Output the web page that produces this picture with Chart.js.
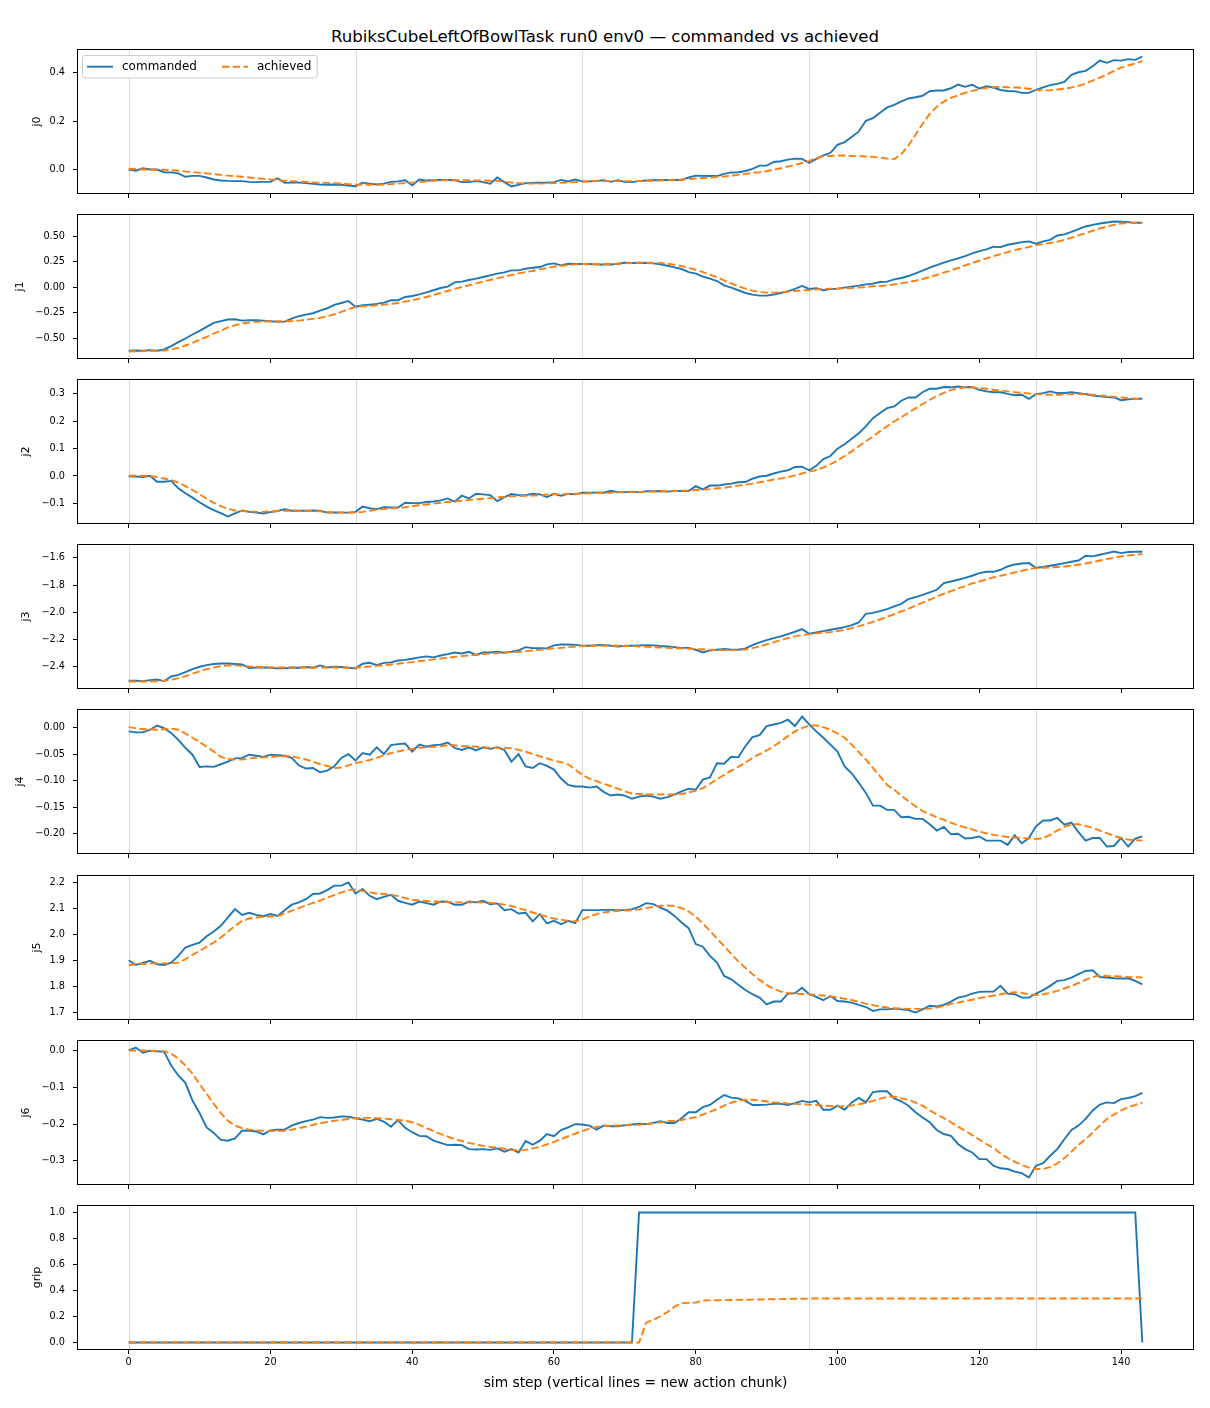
<!DOCTYPE html>
<html>
<head>
<meta charset="utf-8">
<title>RubiksCubeLeftOfBowlTask run0 env0 — commanded vs achieved</title>
<script src="https://cdn.jsdelivr.net/npm/chart.js@4.4.1/dist/chart.umd.min.js"></script>
<style>
  body { margin: 0; background: #fff; width: 1210px; height: 1408px; position: relative; overflow: hidden; font-family: "DejaVu Sans", sans-serif; }
  #title { position: absolute; left: 0; top: 26.5px; width: 1210px; text-align: center; font-size: 16.6px; line-height: 20px; color: #000; }
  canvas { position: absolute; left: 0; }
</style>
</head>
<body>
<div id="title">RubiksCubeLeftOfBowlTask run0 env0 — commanded vs achieved</div>
<div id="plots"></div>
<script>
// Joint traces, one value per sim step (0..143)

const j0Commanded = [
  0.000, -0.005, 0.005, 0.000, 0.000, -0.011, -0.012, -0.016, -0.030, -0.026,
  -0.026, -0.033, -0.041, -0.045, -0.047, -0.048, -0.048, -0.051, -0.052, -0.051,
  -0.051, -0.036, -0.055, -0.054, -0.054, -0.056, -0.059, -0.062, -0.063, -0.062,
  -0.063, -0.066, -0.069, -0.054, -0.058, -0.062, -0.058, -0.051, -0.049, -0.044,
  -0.065, -0.041, -0.045, -0.044, -0.043, -0.043, -0.044, -0.052, -0.052, -0.048,
  -0.052, -0.059, -0.033, -0.052, -0.070, -0.063, -0.056, -0.055, -0.054, -0.054,
  -0.052, -0.043, -0.049, -0.041, -0.049, -0.049, -0.047, -0.044, -0.051, -0.044,
  -0.051, -0.052, -0.048, -0.045, -0.044, -0.043, -0.043, -0.043, -0.043, -0.033,
  -0.025, -0.026, -0.027, -0.027, -0.018, -0.012, -0.011, -0.006, 0.003, 0.016,
  0.016, 0.031, 0.034, 0.041, 0.045, 0.044, 0.027, 0.044, 0.058, 0.069,
  0.102, 0.113, 0.134, 0.157, 0.201, 0.212, 0.234, 0.256, 0.267, 0.281,
  0.293, 0.298, 0.304, 0.323, 0.326, 0.326, 0.335, 0.350, 0.341, 0.349,
  0.334, 0.343, 0.338, 0.328, 0.324, 0.323, 0.316, 0.316, 0.328, 0.339,
  0.348, 0.353, 0.361, 0.390, 0.401, 0.407, 0.426, 0.449, 0.440, 0.451,
  0.449, 0.455, 0.452, 0.466
]
const j0Achieved = [
  0.003, 0.002, 0.000, 0.000, -0.001, -0.001, -0.003, -0.005, -0.008, -0.010,
  -0.014, -0.016, -0.019, -0.022, -0.025, -0.027, -0.030, -0.033, -0.036, -0.038,
  -0.041, -0.043, -0.047, -0.048, -0.050, -0.051, -0.053, -0.054, -0.055, -0.056,
  -0.058, -0.060, -0.062, -0.063, -0.063, -0.063, -0.062, -0.060, -0.058, -0.056,
  -0.054, -0.052, -0.048, -0.046, -0.045, -0.044, -0.044, -0.044, -0.044, -0.045,
  -0.045, -0.046, -0.047, -0.050, -0.054, -0.056, -0.058, -0.058, -0.058, -0.057,
  -0.056, -0.055, -0.054, -0.052, -0.050, -0.049, -0.048, -0.048, -0.048, -0.048,
  -0.048, -0.048, -0.048, -0.047, -0.047, -0.045, -0.044, -0.043, -0.041, -0.039,
  -0.037, -0.035, -0.033, -0.030, -0.029, -0.025, -0.022, -0.018, -0.014, -0.011,
  -0.007, 0.000, 0.005, 0.012, 0.019, 0.027, 0.036, 0.047, 0.055, 0.056,
  0.058, 0.058, 0.056, 0.055, 0.054, 0.052, 0.049, 0.045, 0.043, 0.064,
  0.099, 0.143, 0.188, 0.229, 0.259, 0.280, 0.295, 0.306, 0.316, 0.324,
  0.331, 0.337, 0.339, 0.341, 0.339, 0.338, 0.337, 0.333, 0.328, 0.326,
  0.327, 0.330, 0.333, 0.338, 0.345, 0.354, 0.367, 0.379, 0.392, 0.407,
  0.420, 0.429, 0.437, 0.447
]

const j1Commanded = [
  -0.624, -0.621, -0.624, -0.618, -0.624, -0.611, -0.578, -0.539, -0.503, -0.464,
  -0.428, -0.389, -0.350, -0.333, -0.317, -0.314, -0.327, -0.324, -0.324, -0.327,
  -0.333, -0.340, -0.337, -0.307, -0.284, -0.268, -0.255, -0.229, -0.206, -0.173,
  -0.154, -0.134, -0.190, -0.176, -0.170, -0.163, -0.150, -0.127, -0.127, -0.095,
  -0.085, -0.069, -0.049, -0.029, -0.007, 0.007, 0.049, 0.056, 0.072, 0.085,
  0.101, 0.118, 0.134, 0.147, 0.167, 0.167, 0.183, 0.193, 0.199, 0.225,
  0.235, 0.216, 0.232, 0.229, 0.229, 0.229, 0.225, 0.225, 0.225, 0.232,
  0.242, 0.239, 0.242, 0.239, 0.235, 0.225, 0.212, 0.196, 0.180, 0.150,
  0.134, 0.105, 0.085, 0.062, 0.020, -0.003, -0.029, -0.056, -0.072, -0.082,
  -0.082, -0.072, -0.056, -0.039, -0.016, 0.013, -0.016, -0.010, -0.029, -0.016,
  -0.013, -0.003, 0.007, 0.016, 0.029, 0.036, 0.052, 0.056, 0.078, 0.092,
  0.111, 0.137, 0.163, 0.193, 0.219, 0.242, 0.265, 0.284, 0.307, 0.333,
  0.356, 0.373, 0.399, 0.395, 0.418, 0.431, 0.444, 0.451, 0.428, 0.451,
  0.467, 0.510, 0.520, 0.546, 0.572, 0.598, 0.614, 0.627, 0.637, 0.647,
  0.644, 0.641, 0.634, 0.634
]
const j1Achieved = [
  -0.631, -0.629, -0.627, -0.626, -0.624, -0.621, -0.611, -0.595, -0.572, -0.546,
  -0.516, -0.487, -0.454, -0.425, -0.395, -0.373, -0.356, -0.346, -0.340, -0.337,
  -0.333, -0.333, -0.333, -0.333, -0.327, -0.320, -0.310, -0.301, -0.284, -0.265,
  -0.242, -0.216, -0.193, -0.186, -0.183, -0.176, -0.170, -0.163, -0.154, -0.141,
  -0.127, -0.111, -0.095, -0.075, -0.056, -0.036, -0.016, 0.003, 0.020, 0.039,
  0.056, 0.072, 0.088, 0.105, 0.121, 0.137, 0.150, 0.163, 0.176, 0.190,
  0.203, 0.212, 0.219, 0.225, 0.229, 0.229, 0.229, 0.229, 0.229, 0.232,
  0.235, 0.239, 0.242, 0.242, 0.239, 0.239, 0.232, 0.222, 0.209, 0.193,
  0.173, 0.150, 0.124, 0.098, 0.069, 0.039, 0.010, -0.013, -0.033, -0.046,
  -0.052, -0.052, -0.049, -0.042, -0.036, -0.029, -0.026, -0.020, -0.016, -0.013,
  -0.013, -0.010, -0.007, -0.003, 0.003, 0.010, 0.013, 0.020, 0.029, 0.039,
  0.052, 0.065, 0.082, 0.101, 0.121, 0.144, 0.167, 0.190, 0.216, 0.239,
  0.261, 0.284, 0.307, 0.327, 0.346, 0.366, 0.382, 0.395, 0.415, 0.425,
  0.435, 0.448, 0.467, 0.487, 0.510, 0.533, 0.556, 0.578, 0.598, 0.614,
  0.627, 0.634, 0.634, 0.631
]

const j2Commanded = [
  -0.001, -0.002, -0.004, 0.001, -0.021, -0.021, -0.018, -0.045, -0.063, -0.079,
  -0.096, -0.112, -0.125, -0.136, -0.148, -0.137, -0.126, -0.131, -0.134, -0.137,
  -0.132, -0.128, -0.121, -0.127, -0.127, -0.127, -0.126, -0.127, -0.134, -0.133,
  -0.134, -0.134, -0.131, -0.112, -0.118, -0.121, -0.114, -0.115, -0.115, -0.098,
  -0.099, -0.099, -0.095, -0.093, -0.089, -0.082, -0.094, -0.072, -0.082, -0.065,
  -0.067, -0.070, -0.092, -0.077, -0.066, -0.070, -0.070, -0.065, -0.067, -0.077,
  -0.065, -0.072, -0.065, -0.067, -0.061, -0.061, -0.060, -0.061, -0.054, -0.059,
  -0.059, -0.057, -0.060, -0.056, -0.056, -0.055, -0.057, -0.055, -0.055, -0.055,
  -0.037, -0.049, -0.035, -0.035, -0.031, -0.028, -0.023, -0.022, -0.010, -0.002,
  0.001, 0.009, 0.016, 0.021, 0.033, 0.034, 0.021, 0.037, 0.062, 0.073,
  0.100, 0.116, 0.136, 0.156, 0.181, 0.211, 0.230, 0.248, 0.254, 0.275,
  0.287, 0.287, 0.306, 0.319, 0.319, 0.325, 0.324, 0.327, 0.324, 0.325,
  0.315, 0.309, 0.306, 0.306, 0.300, 0.295, 0.297, 0.282, 0.299, 0.303,
  0.309, 0.303, 0.303, 0.306, 0.303, 0.299, 0.294, 0.291, 0.288, 0.287,
  0.277, 0.280, 0.282, 0.282
]
const j2Achieved = [
  0.001, 0.001, 0.001, 0.000, -0.004, -0.009, -0.015, -0.024, -0.037, -0.051,
  -0.067, -0.083, -0.098, -0.110, -0.120, -0.126, -0.128, -0.129, -0.131, -0.131,
  -0.129, -0.128, -0.127, -0.127, -0.127, -0.127, -0.128, -0.129, -0.131, -0.132,
  -0.133, -0.134, -0.134, -0.131, -0.127, -0.123, -0.121, -0.118, -0.116, -0.114,
  -0.110, -0.107, -0.104, -0.101, -0.098, -0.095, -0.093, -0.090, -0.088, -0.085,
  -0.083, -0.081, -0.078, -0.077, -0.074, -0.073, -0.072, -0.071, -0.070, -0.068,
  -0.067, -0.067, -0.066, -0.065, -0.065, -0.063, -0.062, -0.062, -0.061, -0.060,
  -0.060, -0.059, -0.059, -0.057, -0.057, -0.056, -0.056, -0.055, -0.054, -0.053,
  -0.051, -0.050, -0.048, -0.045, -0.043, -0.039, -0.035, -0.032, -0.028, -0.023,
  -0.018, -0.013, -0.009, -0.004, 0.002, 0.009, 0.016, 0.022, 0.031, 0.043,
  0.057, 0.073, 0.090, 0.109, 0.127, 0.145, 0.164, 0.182, 0.199, 0.215,
  0.231, 0.247, 0.263, 0.278, 0.292, 0.304, 0.314, 0.320, 0.324, 0.324,
  0.321, 0.319, 0.315, 0.313, 0.309, 0.306, 0.304, 0.302, 0.299, 0.298,
  0.297, 0.297, 0.298, 0.299, 0.299, 0.298, 0.297, 0.294, 0.292, 0.289,
  0.287, 0.284, 0.282, 0.281
]

const j3Commanded = [
  -2.503, -2.503, -2.505, -2.498, -2.493, -2.505, -2.471, -2.459, -2.439, -2.417,
  -2.400, -2.388, -2.380, -2.376, -2.376, -2.380, -2.383, -2.410, -2.405, -2.405,
  -2.407, -2.412, -2.412, -2.405, -2.407, -2.402, -2.407, -2.390, -2.405, -2.400,
  -2.402, -2.407, -2.412, -2.378, -2.371, -2.388, -2.371, -2.368, -2.354, -2.349,
  -2.341, -2.331, -2.324, -2.331, -2.317, -2.307, -2.295, -2.302, -2.290, -2.312,
  -2.295, -2.295, -2.290, -2.297, -2.290, -2.280, -2.256, -2.263, -2.263, -2.265,
  -2.243, -2.236, -2.236, -2.239, -2.246, -2.246, -2.241, -2.239, -2.246, -2.251,
  -2.246, -2.246, -2.243, -2.241, -2.243, -2.248, -2.251, -2.256, -2.261, -2.261,
  -2.275, -2.295, -2.280, -2.275, -2.270, -2.275, -2.275, -2.265, -2.241, -2.221,
  -2.204, -2.190, -2.177, -2.160, -2.143, -2.124, -2.158, -2.148, -2.138, -2.128,
  -2.119, -2.109, -2.094, -2.075, -2.011, -2.004, -1.991, -1.977, -1.957, -1.938,
  -1.903, -1.889, -1.872, -1.854, -1.835, -1.786, -1.774, -1.761, -1.747, -1.732,
  -1.713, -1.703, -1.703, -1.688, -1.664, -1.649, -1.642, -1.639, -1.673, -1.668,
  -1.659, -1.649, -1.639, -1.629, -1.620, -1.585, -1.590, -1.578, -1.566, -1.554,
  -1.566, -1.558, -1.556, -1.556
]
const j3Achieved = [
  -2.508, -2.508, -2.508, -2.508, -2.505, -2.503, -2.495, -2.483, -2.469, -2.451,
  -2.434, -2.417, -2.405, -2.395, -2.390, -2.390, -2.393, -2.398, -2.400, -2.402,
  -2.405, -2.405, -2.405, -2.405, -2.405, -2.405, -2.405, -2.405, -2.405, -2.405,
  -2.407, -2.407, -2.407, -2.402, -2.398, -2.393, -2.388, -2.383, -2.378, -2.371,
  -2.366, -2.358, -2.354, -2.346, -2.339, -2.334, -2.327, -2.322, -2.317, -2.312,
  -2.307, -2.302, -2.300, -2.295, -2.292, -2.290, -2.285, -2.280, -2.275, -2.270,
  -2.265, -2.261, -2.256, -2.251, -2.248, -2.246, -2.246, -2.246, -2.246, -2.246,
  -2.248, -2.248, -2.251, -2.253, -2.256, -2.258, -2.261, -2.263, -2.265, -2.268,
  -2.270, -2.273, -2.275, -2.278, -2.278, -2.278, -2.278, -2.273, -2.263, -2.251,
  -2.236, -2.221, -2.204, -2.190, -2.177, -2.168, -2.160, -2.155, -2.150, -2.146,
  -2.138, -2.128, -2.116, -2.102, -2.087, -2.070, -2.053, -2.033, -2.013, -1.994,
  -1.974, -1.952, -1.930, -1.908, -1.886, -1.864, -1.845, -1.825, -1.808, -1.788,
  -1.774, -1.759, -1.744, -1.732, -1.720, -1.708, -1.695, -1.683, -1.676, -1.673,
  -1.671, -1.668, -1.664, -1.659, -1.651, -1.642, -1.632, -1.620, -1.610, -1.600,
  -1.590, -1.583, -1.578, -1.573
]

const j4Commanded = [
  -0.007, -0.009, -0.009, -0.004, 0.004, -0.001, -0.010, -0.023, -0.038, -0.051,
  -0.074, -0.073, -0.074, -0.069, -0.064, -0.058, -0.057, -0.051, -0.053, -0.055,
  -0.051, -0.052, -0.053, -0.057, -0.071, -0.077, -0.076, -0.084, -0.081, -0.073,
  -0.057, -0.050, -0.062, -0.048, -0.051, -0.037, -0.050, -0.033, -0.031, -0.030,
  -0.045, -0.032, -0.036, -0.033, -0.032, -0.028, -0.038, -0.042, -0.037, -0.043,
  -0.037, -0.040, -0.037, -0.042, -0.064, -0.050, -0.073, -0.076, -0.067, -0.072,
  -0.079, -0.096, -0.108, -0.111, -0.111, -0.113, -0.111, -0.121, -0.128, -0.126,
  -0.128, -0.134, -0.130, -0.128, -0.130, -0.134, -0.131, -0.126, -0.120, -0.115,
  -0.117, -0.098, -0.094, -0.067, -0.068, -0.055, -0.056, -0.035, -0.018, -0.014,
  0.003, 0.006, 0.009, 0.015, 0.003, 0.021, 0.006, -0.007, -0.019, -0.032,
  -0.045, -0.073, -0.086, -0.104, -0.123, -0.147, -0.147, -0.155, -0.155, -0.169,
  -0.168, -0.172, -0.172, -0.182, -0.194, -0.187, -0.201, -0.200, -0.209, -0.208,
  -0.205, -0.213, -0.213, -0.213, -0.221, -0.203, -0.218, -0.208, -0.186, -0.175,
  -0.175, -0.170, -0.183, -0.179, -0.197, -0.213, -0.208, -0.208, -0.224, -0.223,
  -0.208, -0.224, -0.209, -0.205
]
const j4Achieved = [
  0.001, -0.001, -0.003, -0.003, -0.004, -0.003, -0.002, -0.004, -0.011, -0.019,
  -0.027, -0.036, -0.045, -0.055, -0.059, -0.060, -0.060, -0.058, -0.057, -0.056,
  -0.055, -0.054, -0.054, -0.054, -0.057, -0.060, -0.064, -0.069, -0.072, -0.076,
  -0.075, -0.071, -0.067, -0.064, -0.061, -0.057, -0.052, -0.048, -0.045, -0.042,
  -0.040, -0.038, -0.037, -0.036, -0.035, -0.033, -0.033, -0.035, -0.035, -0.036,
  -0.037, -0.038, -0.038, -0.038, -0.039, -0.042, -0.045, -0.050, -0.054, -0.058,
  -0.062, -0.065, -0.069, -0.079, -0.089, -0.096, -0.101, -0.106, -0.110, -0.115,
  -0.120, -0.124, -0.125, -0.126, -0.126, -0.126, -0.126, -0.126, -0.125, -0.122,
  -0.119, -0.114, -0.106, -0.097, -0.089, -0.081, -0.074, -0.066, -0.057, -0.050,
  -0.043, -0.035, -0.026, -0.016, -0.007, -0.001, 0.004, 0.004, 0.001, -0.004,
  -0.011, -0.019, -0.032, -0.046, -0.060, -0.076, -0.092, -0.108, -0.117, -0.128,
  -0.139, -0.148, -0.157, -0.163, -0.169, -0.174, -0.179, -0.184, -0.188, -0.192,
  -0.196, -0.199, -0.202, -0.204, -0.206, -0.207, -0.208, -0.209, -0.210, -0.208,
  -0.202, -0.194, -0.187, -0.182, -0.182, -0.185, -0.189, -0.194, -0.199, -0.204,
  -0.208, -0.211, -0.212, -0.213
]

const j5Commanded = [
  1.901, 1.883, 1.891, 1.899, 1.886, 1.883, 1.892, 1.918, 1.950, 1.960,
  1.969, 1.993, 2.011, 2.033, 2.065, 2.097, 2.075, 2.083, 2.075, 2.070,
  2.078, 2.071, 2.093, 2.114, 2.123, 2.135, 2.155, 2.157, 2.170, 2.187,
  2.187, 2.199, 2.157, 2.174, 2.148, 2.135, 2.144, 2.152, 2.129, 2.121,
  2.114, 2.126, 2.120, 2.114, 2.126, 2.125, 2.114, 2.114, 2.126, 2.123,
  2.129, 2.116, 2.119, 2.093, 2.097, 2.080, 2.083, 2.050, 2.078, 2.042,
  2.052, 2.039, 2.052, 2.043, 2.093, 2.093, 2.093, 2.094, 2.094, 2.093,
  2.093, 2.097, 2.106, 2.120, 2.116, 2.103, 2.091, 2.071, 2.046, 2.024,
  1.963, 1.953, 1.918, 1.892, 1.841, 1.828, 1.807, 1.787, 1.771, 1.758,
  1.732, 1.743, 1.743, 1.773, 1.775, 1.796, 1.771, 1.761, 1.748, 1.764,
  1.745, 1.743, 1.739, 1.730, 1.722, 1.707, 1.713, 1.713, 1.716, 1.713,
  1.710, 1.701, 1.713, 1.727, 1.724, 1.730, 1.743, 1.758, 1.764, 1.773,
  1.780, 1.781, 1.781, 1.803, 1.773, 1.771, 1.758, 1.758, 1.773, 1.787,
  1.803, 1.822, 1.825, 1.835, 1.848, 1.860, 1.863, 1.837, 1.835, 1.832,
  1.831, 1.832, 1.822, 1.809
]
const j5Achieved = [
  1.882, 1.886, 1.887, 1.889, 1.889, 1.889, 1.889, 1.892, 1.905, 1.922,
  1.937, 1.953, 1.969, 1.988, 2.010, 2.033, 2.052, 2.061, 2.065, 2.068,
  2.069, 2.071, 2.080, 2.091, 2.101, 2.111, 2.121, 2.130, 2.141, 2.151,
  2.161, 2.170, 2.172, 2.167, 2.161, 2.157, 2.155, 2.152, 2.147, 2.139,
  2.133, 2.130, 2.128, 2.126, 2.125, 2.124, 2.123, 2.123, 2.123, 2.123,
  2.123, 2.121, 2.119, 2.114, 2.109, 2.101, 2.093, 2.084, 2.075, 2.068,
  2.061, 2.057, 2.052, 2.050, 2.057, 2.069, 2.078, 2.084, 2.088, 2.091,
  2.092, 2.093, 2.096, 2.101, 2.106, 2.110, 2.111, 2.109, 2.101, 2.088,
  2.068, 2.042, 2.014, 1.984, 1.955, 1.926, 1.897, 1.872, 1.848, 1.826,
  1.807, 1.791, 1.781, 1.775, 1.773, 1.772, 1.771, 1.768, 1.766, 1.763,
  1.759, 1.754, 1.749, 1.742, 1.735, 1.729, 1.724, 1.720, 1.717, 1.716,
  1.715, 1.715, 1.715, 1.716, 1.720, 1.726, 1.734, 1.739, 1.745, 1.750,
  1.756, 1.761, 1.766, 1.771, 1.776, 1.779, 1.776, 1.771, 1.768, 1.771,
  1.776, 1.784, 1.793, 1.803, 1.814, 1.826, 1.837, 1.843, 1.841, 1.840,
  1.839, 1.837, 1.836, 1.835
]

const j6Commanded = [
  0.000, 0.008, -0.006, -0.001, -0.002, -0.004, -0.041, -0.068, -0.088, -0.136,
  -0.170, -0.209, -0.224, -0.243, -0.245, -0.239, -0.218, -0.218, -0.220, -0.228,
  -0.217, -0.215, -0.215, -0.204, -0.197, -0.192, -0.188, -0.181, -0.183, -0.182,
  -0.179, -0.180, -0.184, -0.188, -0.192, -0.186, -0.193, -0.207, -0.189, -0.210,
  -0.222, -0.232, -0.233, -0.245, -0.251, -0.257, -0.256, -0.257, -0.268, -0.269,
  -0.268, -0.270, -0.266, -0.275, -0.268, -0.277, -0.246, -0.256, -0.245, -0.227,
  -0.233, -0.216, -0.209, -0.200, -0.201, -0.204, -0.215, -0.204, -0.206, -0.206,
  -0.203, -0.201, -0.199, -0.200, -0.197, -0.192, -0.197, -0.197, -0.184, -0.168,
  -0.168, -0.154, -0.148, -0.134, -0.121, -0.128, -0.130, -0.137, -0.148, -0.148,
  -0.147, -0.145, -0.145, -0.148, -0.143, -0.137, -0.141, -0.137, -0.161, -0.161,
  -0.150, -0.161, -0.141, -0.129, -0.141, -0.113, -0.111, -0.111, -0.130, -0.138,
  -0.150, -0.168, -0.182, -0.195, -0.216, -0.227, -0.232, -0.254, -0.268, -0.277,
  -0.295, -0.295, -0.313, -0.320, -0.322, -0.329, -0.333, -0.345, -0.313, -0.306,
  -0.286, -0.268, -0.241, -0.216, -0.204, -0.186, -0.163, -0.147, -0.141, -0.143,
  -0.132, -0.129, -0.124, -0.115
]
const j6Achieved = [
  0.000, 0.000, 0.000, -0.001, -0.002, -0.002, -0.009, -0.022, -0.041, -0.063,
  -0.091, -0.118, -0.145, -0.170, -0.191, -0.204, -0.211, -0.215, -0.217, -0.218,
  -0.219, -0.219, -0.218, -0.215, -0.211, -0.207, -0.202, -0.198, -0.194, -0.191,
  -0.189, -0.186, -0.184, -0.183, -0.183, -0.184, -0.185, -0.187, -0.189, -0.191,
  -0.195, -0.202, -0.211, -0.219, -0.227, -0.234, -0.241, -0.246, -0.251, -0.255,
  -0.259, -0.262, -0.264, -0.267, -0.270, -0.271, -0.270, -0.266, -0.262, -0.255,
  -0.248, -0.241, -0.233, -0.226, -0.219, -0.212, -0.208, -0.205, -0.204, -0.204,
  -0.203, -0.202, -0.202, -0.200, -0.198, -0.195, -0.192, -0.191, -0.189, -0.185,
  -0.181, -0.174, -0.167, -0.159, -0.150, -0.142, -0.137, -0.134, -0.134, -0.136,
  -0.138, -0.141, -0.142, -0.144, -0.145, -0.146, -0.147, -0.148, -0.150, -0.151,
  -0.152, -0.152, -0.149, -0.146, -0.142, -0.137, -0.131, -0.126, -0.125, -0.130,
  -0.134, -0.142, -0.150, -0.162, -0.174, -0.184, -0.195, -0.207, -0.218, -0.230,
  -0.242, -0.254, -0.265, -0.280, -0.292, -0.302, -0.311, -0.318, -0.322, -0.322,
  -0.316, -0.307, -0.292, -0.275, -0.256, -0.241, -0.223, -0.204, -0.186, -0.174,
  -0.163, -0.154, -0.148, -0.142
]

const gripCommanded = [
  0, 0, 0, 0, 0, 0, 0, 0, 0, 0,
  0, 0, 0, 0, 0, 0, 0, 0, 0, 0,
  0, 0, 0, 0, 0, 0, 0, 0, 0, 0,
  0, 0, 0, 0, 0, 0, 0, 0, 0, 0,
  0, 0, 0, 0, 0, 0, 0, 0, 0, 0,
  0, 0, 0, 0, 0, 0, 0, 0, 0, 0,
  0, 0, 0, 0, 0, 0, 0, 0, 0, 0,
  0, 0, 1, 1, 1, 1, 1, 1, 1, 1,
  1, 1, 1, 1, 1, 1, 1, 1, 1, 1,
  1, 1, 1, 1, 1, 1, 1, 1, 1, 1,
  1, 1, 1, 1, 1, 1, 1, 1, 1, 1,
  1, 1, 1, 1, 1, 1, 1, 1, 1, 1,
  1, 1, 1, 1, 1, 1, 1, 1, 1, 1,
  1, 1, 1, 1, 1, 1, 1, 1, 1, 1,
  1, 1, 1, 0
]
const gripAchieved = [
  0, 0, 0, 0, 0, 0, 0, 0, 0, 0,
  0, 0, 0, 0, 0, 0, 0, 0, 0, 0,
  0, 0, 0, 0, 0, 0, 0, 0, 0, 0,
  0, 0, 0, 0, 0, 0, 0, 0, 0, 0,
  0, 0, 0, 0, 0, 0, 0, 0, 0, 0,
  0, 0, 0, 0, 0, 0, 0, 0, 0, 0,
  0, 0, 0, 0, 0, 0, 0, 0, 0, 0,
  0, 0, 0, 0.152, 0.175, 0.200, 0.235, 0.275, 0.303, 0.305,
  0.307, 0.323, 0.324, 0.325, 0.326, 0.327, 0.328, 0.329, 0.330, 0.331,
  0.332, 0.333, 0.334, 0.335, 0.336, 0.337, 0.338, 0.339, 0.339, 0.339,
  0.339, 0.339, 0.339, 0.339, 0.339, 0.339, 0.339, 0.339, 0.339, 0.339,
  0.339, 0.339, 0.339, 0.339, 0.339, 0.339, 0.339, 0.339, 0.339, 0.339,
  0.339, 0.339, 0.339, 0.339, 0.339, 0.339, 0.339, 0.339, 0.339, 0.339,
  0.339, 0.339, 0.339, 0.339, 0.339, 0.339, 0.339, 0.339, 0.339, 0.339,
  0.339, 0.339, 0.339, 0.339
]

// Tick values and labels
const xTicks = [0, 20, 40, 60, 80, 100, 120, 140]
const chunkStarts = [0, 32, 64, 96, 128]
const j0Ticks = [0.0, 0.2, 0.4]
const j0TickLabels = ["0.0", "0.2", "0.4"]
const j1Ticks = [-0.5, -0.25, 0, 0.25, 0.5]
const j1TickLabels = ["\u22120.50", "\u22120.25", "0.00", "0.25", "0.50"]
const j2Ticks = [-0.1, 0, 0.1, 0.2, 0.3]
const j2TickLabels = ["\u22120.1", "0.0", "0.1", "0.2", "0.3"]
const j3Ticks = [-2.4, -2.2, -2.0, -1.8, -1.6]
const j3TickLabels = ["\u22122.4", "\u22122.2", "\u22122.0", "\u22121.8", "\u22121.6"]
const j4Ticks = [-0.2, -0.15, -0.1, -0.05, 0]
const j4TickLabels = ["\u22120.20", "\u22120.15", "\u22120.10", "\u22120.05", "0.00"]
const j5Ticks = [1.7, 1.8, 1.9, 2.0, 2.1, 2.2]
const j5TickLabels = ["1.7", "1.8", "1.9", "2.0", "2.1", "2.2"]
const j6Ticks = [-0.3, -0.2, -0.1, 0.0]
const j6TickLabels = ["\u22120.3", "\u22120.2", "\u22120.1", "0.0"]
const gripTicks = [0, 0.2, 0.4, 0.6, 0.8, 1.0]
const gripTickLabels = ["0.0", "0.2", "0.4", "0.6", "0.8", "1.0"]

const steps = []
for (let i = 0; i < j0Commanded.length; i++) steps.push(i)

// Page layout (pixels)
const PAGE_W = 1210
const AX_LEFT = 78
const AX_RIGHT = 1193
const AX_H = 143
const PAD_TOP = 14
const panelTops = [50, 215, 380, 545, 710, 876, 1041, 1206]
const yLabelCenters = [37, 20, 26, 26, 20, 37, 26, 37.5]
const TICK_FONT = 9.7
const LABEL_FONT = 11.1
const XLABEL_FONT = 13.8

const panels = [
  { name: "j0", cmd: j0Commanded, ach: j0Achieved, ticks: j0Ticks, labels: j0TickLabels },
  { name: "j1", cmd: j1Commanded, ach: j1Achieved, ticks: j1Ticks, labels: j1TickLabels },
  { name: "j2", cmd: j2Commanded, ach: j2Achieved, ticks: j2Ticks, labels: j2TickLabels },
  { name: "j3", cmd: j3Commanded, ach: j3Achieved, ticks: j3Ticks, labels: j3TickLabels },
  { name: "j4", cmd: j4Commanded, ach: j4Achieved, ticks: j4Ticks, labels: j4TickLabels },
  { name: "j5", cmd: j5Commanded, ach: j5Achieved, ticks: j5Ticks, labels: j5TickLabels },
  { name: "j6", cmd: j6Commanded, ach: j6Achieved, ticks: j6Ticks, labels: j6TickLabels },
  { name: "grip", cmd: gripCommanded, ach: gripAchieved, ticks: gripTicks, labels: gripTickLabels },
]

Chart.defaults.font.family = '"DejaVu Sans", sans-serif'
Chart.defaults.color = "#000"

// matplotlib-style autoscale: data range plus 5% each side
function paddedRange(a, b) {
  const all = a.concat(b)
  const lo = Math.min(...all)
  const hi = Math.max(...all)
  const m = (hi - lo) * 0.05
  return [lo - m, hi + m]
}

function toPoints(values) {
  return steps.map((s, k) => ({ x: s, y: values[k] }))
}

// light vertical lines where a new action chunk starts
const chunkLines = {
  id: "chunkLines",
  beforeDatasetsDraw(chart) {
    const { ctx, chartArea, scales } = chart
    ctx.save()
    ctx.strokeStyle = "#d9d9d9"
    ctx.lineWidth = 1
    chunkStarts.forEach((c) => {
      const px = Math.round(scales.x.getPixelForValue(c)) + 0.5
      ctx.beginPath()
      ctx.moveTo(px, chartArea.top)
      ctx.lineTo(px, chartArea.bottom)
      ctx.stroke()
    })
    ctx.restore()
  },
}

// full box around the axes, like matplotlib spines
const axesFrame = {
  id: "axesFrame",
  afterDatasetsDraw(chart) {
    const { ctx, chartArea } = chart
    ctx.save()
    ctx.strokeStyle = "#000"
    ctx.lineWidth = 1
    ctx.strokeRect(chartArea.left - 0.5, chartArea.top - 0.5, chartArea.width + 1, chartArea.height + 1)
    ctx.restore()
  },
}

// legend box in the upper-left corner of the first panel
const cornerLegend = {
  id: "cornerLegend",
  afterDraw(chart) {
    const { ctx, chartArea } = chart
    const handleLen = 26
    const textPad = 9
    const colGap = 25
    const x0 = chartArea.left + 4.5
    const y0 = chartArea.top + 5.5
    const yc = chartArea.top + 16.7
    ctx.save()
    ctx.font = '12px "DejaVu Sans"'
    let x = x0 + 4.5
    const items = chart.data.datasets.map((ds) => {
      const w = ctx.measureText(ds.label).width
      const item = { ds, x, w }
      x += handleLen + textPad + w + colGap
      return item
    })
    const boxW = x - colGap + 6 - x0
    ctx.beginPath()
    if (ctx.roundRect) ctx.roundRect(x0, y0, boxW, 22.5, 2.5)
    else ctx.rect(x0, y0, boxW, 22.5)
    ctx.fillStyle = "rgba(255,255,255,0.8)"
    ctx.fill()
    ctx.strokeStyle = "#cccccc"
    ctx.lineWidth = 1
    ctx.stroke()
    items.forEach((it) => {
      ctx.beginPath()
      ctx.strokeStyle = it.ds.borderColor
      ctx.lineWidth = it.ds.borderWidth
      ctx.setLineDash(it.ds.borderDash || [])
      ctx.moveTo(it.x, yc)
      ctx.lineTo(it.x + handleLen, yc)
      ctx.stroke()
      ctx.setLineDash([])
      ctx.fillStyle = "#000"
      ctx.textBaseline = "middle"
      ctx.fillText(it.ds.label, it.x + handleLen + textPad, yc)
    })
    ctx.restore()
  },
}

function makePanel(panel, i) {
  const isLast = i === panels.length - 1
  const bottomSpace = isLast ? 52 : 14
  const canvas = document.createElement("canvas")
  canvas.width = PAGE_W
  canvas.height = PAD_TOP + AX_H + bottomSpace
  canvas.style.width = PAGE_W + "px"
  canvas.style.height = canvas.height + "px"
  canvas.style.top = panelTops[i] - PAD_TOP + "px"
  document.getElementById("plots").appendChild(canvas)

  const [yMin, yMax] = paddedRange(panel.cmd, panel.ach)
  const tickGrid = { drawOnChartArea: false, drawTicks: true, tickLength: 5, color: "#000", lineWidth: 1 }

  const plugins = [chunkLines, axesFrame]
  if (i === 0) plugins.push(cornerLegend)

  return new Chart(canvas.getContext("2d"), {
    type: "line",
    data: {
      datasets: [
        {
          label: "commanded",
          data: toPoints(panel.cmd),
          borderColor: "#1f77b4",
          borderWidth: 1.9,
          pointRadius: 0,
          tension: 0,
          order: 2,
        },
        {
          label: "achieved",
          data: toPoints(panel.ach),
          borderColor: "#ff7f0e",
          borderWidth: 1.9,
          borderDash: [7.5, 3.3],
          pointRadius: 0,
          tension: 0,
          order: 1,
        },
      ],
    },
    options: {
      responsive: false,
      animation: false,
      devicePixelRatio: 1,
      events: [],
      layout: { padding: { top: PAD_TOP, left: 0, right: PAGE_W - AX_RIGHT, bottom: 0 } },
      plugins: { legend: { display: false }, tooltip: { enabled: false } },
      scales: {
        x: {
          type: "linear",
          min: -7.15,
          max: 150.15,
          afterBuildTicks: (scale) => {
            scale.ticks = xTicks.map((v) => ({ value: v }))
          },
          afterFit: (scale) => {
            scale.height = bottomSpace
          },
          grid: tickGrid,
          border: { display: false },
          ticks: {
            display: isLast,
            autoSkip: false,
            maxRotation: 0,
            padding: 3,
            color: "#000",
            font: { size: TICK_FONT },
            callback: (value) => String(value),
          },
          title: {
            display: isLast,
            text: "sim step (vertical lines = new action chunk)",
            color: "#000",
            font: { size: XLABEL_FONT },
            padding: { top: 0, bottom: 9.5 },
          },
        },
        y: {
          min: yMin,
          max: yMax,
          afterBuildTicks: (scale) => {
            scale.ticks = panel.ticks.map((v) => ({ value: v }))
          },
          afterFit: (scale) => {
            scale.width = AX_LEFT
          },
          grid: tickGrid,
          border: { display: false },
          ticks: {
            autoSkip: false,
            padding: 8,
            color: "#000",
            font: { size: TICK_FONT },
            callback: (value, index) => panel.labels[index],
          },
          title: {
            display: true,
            text: panel.name,
            color: "#000",
            font: { size: LABEL_FONT },
            padding: { top: yLabelCenters[i] - LABEL_FONT * 0.6, bottom: 0 },
          },
        },
      },
    },
    plugins: plugins,
  })
}

panels.forEach((p, i) => makePanel(p, i))
</script>
</body>
</html>
